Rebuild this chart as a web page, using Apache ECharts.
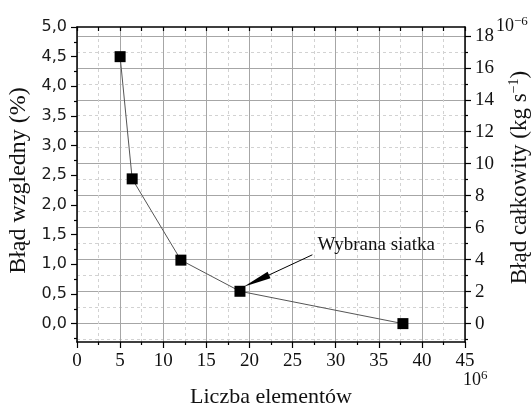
<!DOCTYPE html>
<html>
<head>
<meta charset="utf-8">
<script src="https://cdn.jsdelivr.net/npm/echarts@6.0.0/dist/echarts.min.js"></script>
<style>html,body{margin:0;padding:0;background:#fff;}#c{width:531px;height:407px;}</style>
</head>
<body>
<div id="c"></div>
<script>
// ---- data ----
const elements = [5.0, 6.4, 12.05, 18.9, 37.8];          // Liczba elementów (10^6)
const relError = [4.50, 2.44, 1.07, 0.545, 0.0];         // Błąd względny (%)
const leftTicks = [0, 0.5, 1, 1.5, 2, 2.5, 3, 3.5, 4, 4.5, 5];
const leftMinorTicks = [-0.25, 0.25, 0.75, 1.25, 1.75, 2.25, 2.75, 3.25, 3.75, 4.25, 4.75];
const rightTicks = [0, 2, 4, 6, 8, 10, 12, 14, 16, 18];
const rightMinorTicks = [-1, 1, 3, 5, 7, 9, 11, 13, 15, 17];
const annotationText = 'Wybrana siatka';
const annotationLabelPos = [34.7, 1.32];
const arrowTail = [27.3, 1.16];
const arrowHeadCenter = [20.8, 0.72];

const serif = 'Liberation Serif';
const sans = 'DejaVu Sans';
const black = '#111';

const chart = echarts.init(document.getElementById('c'), null, {renderer: 'canvas'});
const axisLineStyle = {show: true, onZero: false, lineStyle: {color: '#000', width: 1.5}};
const hiddenLine = {show: false, onZero: false};

function buildMarkPoints(headRotate) {
  return {
    silent: true, animation: false,
    data: [
      {coord: annotationLabelPos, symbol: 'circle', symbolSize: 1,
        itemStyle: {color: 'rgba(0,0,0,0)'},
        label: {show: true, position: 'inside', formatter: annotationText,
          fontFamily: serif, fontSize: 19, color: black}},
      {coord: arrowHeadCenter, symbol: 'triangle', symbolSize: [7, 28],
        symbolRotate: headRotate,
        itemStyle: {color: '#000'}, label: {show: false}}
    ]
  };
}

chart.setOption({
  animation: false,
  backgroundColor: '#fff',
  grid: {left: 77, right: 66, top: 27, bottom: 65, containLabel: false, outerBoundsMode: 'none'},
  xAxis: [
    {
      type: 'value', position: 'bottom', min: 0, max: 45, interval: 5,
      axisLine: axisLineStyle,
      axisTick: {show: true, inside: false, length: 6, lineStyle: {color: '#000', width: 1.2}},
      minorTick: {show: true, splitNumber: 2, length: 3, lineStyle: {color: '#000', width: 1.2}},
      splitLine: {show: true, lineStyle: {color: '#a6a6a6', width: 1}},
      minorSplitLine: {show: true, lineStyle: {color: '#d2d2d2', width: 1, type: [3, 3]}},
      axisLabel: {show: true, margin: 10, fontFamily: serif, fontSize: 19, color: black},
      name: 'Liczba elementów', nameLocation: 'middle', nameGap: 44,
      nameTextStyle: {fontFamily: serif, fontSize: 22, color: black}
    },
    {
      type: 'value', position: 'top', min: 0, max: 45, interval: 2.5,
      axisLine: axisLineStyle,
      axisTick: {show: true, inside: true, length: 4, lineStyle: {color: '#000', width: 1.2}},
      axisLabel: {show: false}, splitLine: {show: false}
    }
  ],
  yAxis: [
    {
      type: 'value', position: 'left', min: -0.31, max: 5.0,
      axisLine: axisLineStyle,
      axisTick: {show: true, inside: false, length: 6, customValues: leftTicks, lineStyle: {color: '#000', width: 1.2}},
      axisLabel: {show: true, margin: 10, fontFamily: sans, fontSize: 16, color: '#1a1a1a',
        customValues: leftTicks,
        formatter: v => v.toFixed(1).replace('.', ',')},
      splitLine: {show: false},
      name: 'Błąd wzgledny (%)', nameLocation: 'middle', nameGap: 44, nameRotate: 90,
      nameTextStyle: {fontFamily: serif, fontSize: 24, color: black, padding: [0, 0, 0, 8]}
    },
    {
      type: 'value', position: 'right', min: -1.15, max: 18.55,
      axisLine: axisLineStyle,
      axisTick: {show: true, inside: false, length: 6, customValues: rightTicks, lineStyle: {color: '#000', width: 1.2}},
      axisLabel: {show: true, margin: 10, fontFamily: serif, fontSize: 19, color: black,
        customValues: rightTicks},
      splitLine: {show: true, lineStyle: {color: '#a6a6a6', width: 1}},
      name: 'Błąd całkowity (kg s{sup|−1})', nameLocation: 'middle', nameGap: 42, nameRotate: 90,
      nameTextStyle: {fontFamily: serif, fontSize: 23, color: black, padding: [0, 0, 0, 14],
        rich: {sup: {fontFamily: serif, fontSize: 14, color: black, padding: [0, 0, 12, 0]}}}
    },
    {
      type: 'value', position: 'left', min: -0.31, max: 5.0,
      axisLine: hiddenLine,
      axisTick: {show: true, inside: false, length: 3, customValues: leftMinorTicks, lineStyle: {color: '#000', width: 1.2}},
      axisLabel: {show: false}, splitLine: {show: false}
    },
    {
      type: 'value', position: 'right', min: -1.15, max: 18.55,
      axisLine: hiddenLine,
      axisTick: {show: true, inside: false, length: 3, customValues: rightMinorTicks, lineStyle: {color: '#000', width: 1.2}},
      axisLabel: {show: false},
      splitLine: {show: true, lineStyle: {color: '#d2d2d2', width: 1, type: [3, 3]}}
    }
  ],
  graphic: [
    {type: 'text', left: 496, top: 15, z: 100,
      style: {text: '10{s|−6}', fontFamily: serif, fontSize: 18, fill: black,
        rich: {s: {fontFamily: serif, fontSize: 13, fill: black, padding: [0, 0, 10, 0]}}}},
    {type: 'text', left: 463, top: 369, z: 100,
      style: {text: '10{s|6}', fontFamily: serif, fontSize: 18, fill: black,
        rich: {s: {fontFamily: serif, fontSize: 13, fill: black, padding: [0, 0, 10, 0]}}}}
  ],
  series: [
    {
      id: 'main',
      type: 'line', xAxisIndex: 0, yAxisIndex: 0,
      data: elements.map((x, i) => [x, relError[i]]),
      symbol: 'rect', symbolSize: 11,
      itemStyle: {color: '#000'},
      lineStyle: {color: '#555', width: 1},
      z: 10,
      markLine: {
        silent: true, animation: false,
        symbol: ['none', 'none'],
        lineStyle: {color: '#000', width: 1, type: 'solid'},
        label: {show: false},
        data: [[{coord: arrowTail}, {coord: arrowHeadCenter}]]
      },
      markPoint: buildMarkPoints(0)
    }
  ]
});

// orient the arrow head along the arrow's on-screen direction
const pTail = chart.convertToPixel({xAxisIndex: 0, yAxisIndex: 0}, arrowTail);
const pHead = chart.convertToPixel({xAxisIndex: 0, yAxisIndex: 0}, arrowHeadCenter);
const dx = pHead[0] - pTail[0], dy = pHead[1] - pTail[1];
// symbol points up (0,-1); rotation is counter-clockwise in degrees
const rot = Math.atan2(-dx, -dy) * 180 / Math.PI;
chart.setOption({series: [{id: 'main', markPoint: buildMarkPoints(rot)}]});
</script>
</body>
</html>
